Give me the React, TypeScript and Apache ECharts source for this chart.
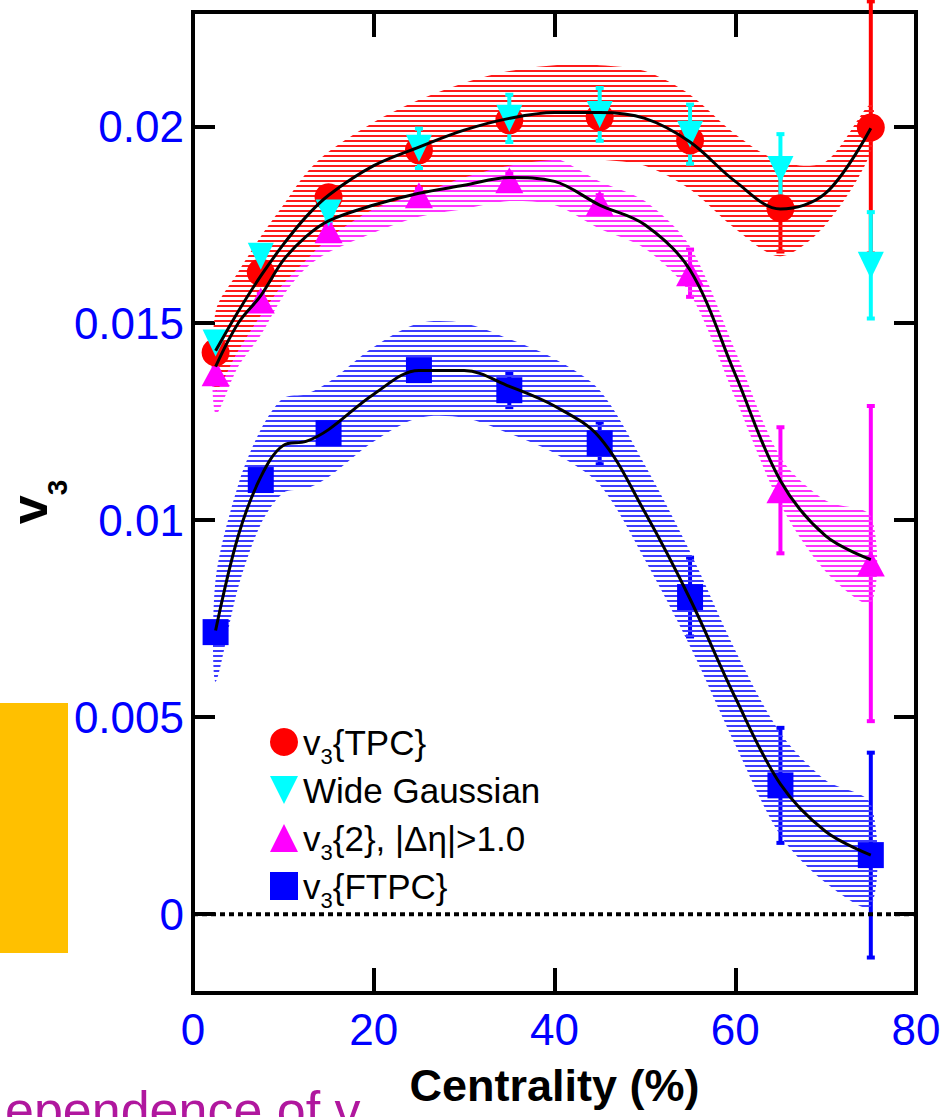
import React, { useEffect, useRef } from 'react';
import * as echarts from 'echarts';

// ---- data ----
const centrality = [2.5, 7.5, 15, 25, 35, 45, 55, 65, 75];

const tpcV3 = [0.01426, 0.01629, 0.0182, 0.01939, 0.02015, 0.02023, 0.01964, 0.01792, 0.01997];
const tpcErr = [0.0002, 0.0002, 0.0002, 0.0002, 0.0002, 0.0002, 0.0003, 0.0011, 0.0032];

const wideGaussV3 = [0.0145, 0.0167, 0.0178, 0.01944, 0.0202, 0.0203, 0.0198, 0.0189, 0.01647];
const wideGaussErr = [0.0002, 0.0002, 0.0002, 0.0005, 0.0006, 0.00067, 0.00075, 0.0009, 0.00135];

const v32V3 = [0.01373, 0.01558, 0.01736, 0.01825, 0.01863, 0.01805, 0.01627, 0.01076, 0.0089];
const v32Err = [0.0002, 0.0002, 0.0002, 0.0002, 0.0002, 0.0002, 0.0006, 0.0016, 0.004];

const ftpcV3 = [0.00716, 0.01102, 0.01221, 0.01381, 0.0133, 0.01195, 0.00805, 0.00327, 0.0015];
const ftpcErr = [0.0002, 0.0002, 0.0002, 0.0002, 0.00043, 0.00053, 0.001, 0.00146, 0.0026];

// smooth fit curves and hatched systematic bands
const fitX = [2.5, 5, 7.5, 10, 12.5, 15, 20, 25, 30, 35, 40, 45, 50, 55, 60, 65, 70, 75];
const tpcFit = [0.0143, 0.0153, 0.0162, 0.017, 0.0177, 0.01825, 0.019, 0.01947, 0.0199, 0.0202, 0.02035, 0.02035, 0.0202, 0.0196, 0.0186, 0.0179, 0.0183, 0.01995];
const tpcBand = [0.001, 0.001, 0.001, 0.001, 0.0011, 0.0011, 0.0011, 0.0012, 0.0012, 0.0012, 0.0012, 0.0012, 0.0012, 0.0012, 0.0012, 0.0012, 0.0008, 0.0006];
const v32Fit = [0.0139, 0.015, 0.0157, 0.0166, 0.0172, 0.0176, 0.018, 0.0183, 0.0185, 0.0187, 0.0186, 0.018, 0.0175, 0.01635, 0.0137, 0.011, 0.0096, 0.009];
const v32Band = [0.0012, 0.0011, 0.001, 0.0009, 0.0008, 0.0008, 0.0007, 0.0006, 0.0006, 0.0006, 0.0006, 0.0006, 0.0006, 0.0006, 0.0006, 0.0006, 0.0009, 0.0011];
const ftpcFit = [0.0072, 0.0096, 0.0111, 0.0119, 0.012, 0.0123, 0.0132, 0.0138, 0.0138, 0.0134, 0.0129, 0.0121, 0.0102, 0.008, 0.0055, 0.0033, 0.0021, 0.0015];
const ftpcBand = [0.0013, 0.0013, 0.0012, 0.0012, 0.0012, 0.0012, 0.0012, 0.0012, 0.0012, 0.0012, 0.0012, 0.0012, 0.0012, 0.0012, 0.0012, 0.0013, 0.0013, 0.0013];

const yTicks = [0, 0.005, 0.01, 0.015, 0.02];
const xMin = 0;
const xMax = 80;
const xStep = 20;
const yMin = -0.002;
const yMax = 0.0229;

const legendNames = ['v3{TPC}', 'Wide Gaussian', 'v3{2}, |Δη|>1.0', 'v3{FTPC}'];
const legendLabels: Record<string, string> = {
  'v3{TPC}': 'v{s|3}{TPC}',
  'Wide Gaussian': 'Wide Gaussian',
  'v3{2}, |Δη|>1.0': 'v{s|3}{2}, |Δη|>1.0',
  'v3{FTPC}': 'v{s|3}{FTPC}',
};

const FONT = "'Liberation Sans', Arial, sans-serif";
const BLUE = '#0000ff';

function hatch(color: string) {
  const c = document.createElement('canvas');
  c.width = 6;
  c.height = 5;
  const g = c.getContext('2d')!;
  g.fillStyle = color;
  g.fillRect(0, 0, 6, 2);
  return { image: c, repeat: 'repeat' } as any;
}

function bandSeries(fit: number[], half: number[], color: string) {
  const pattern = hatch(color);
  return {
    type: 'custom',
    silent: true,
    clip: true,
    data: [[fitX[0], fit[0]]],
    renderItem: (_p: any, api: any) => {
      const upper = fitX.map((x, i) => api.coord([x, fit[i] + half[i]]));
      const lower = fitX.map((x, i) => api.coord([x, fit[i] - half[i]])).reverse();
      return {
        type: 'polygon',
        shape: { points: upper.concat(lower), smooth: 0.3 },
        style: { fill: pattern, stroke: null },
      };
    },
  };
}

function fitSeries(fit: number[]) {
  return {
    type: 'line',
    silent: true,
    symbol: 'none',
    smooth: 0.35,
    data: fitX.map((x, i) => [x, fit[i]]),
    lineStyle: { color: '#000', width: 3 },
  };
}

function errSeries(vals: number[], errs: number[], color: string) {
  return {
    type: 'custom',
    silent: true,
    clip: false,
    data: centrality.map((x, i) => [x, vals[i] - errs[i], vals[i] + errs[i]]),
    encode: { x: 0, y: [1, 2] },
    renderItem: (_p: any, api: any) => {
      const x = api.value(0);
      const top = api.coord([x, api.value(2)]);
      const bot = api.coord([x, api.value(1)]);
      return {
        type: 'group',
        children: [
          { type: 'line', shape: { x1: top[0], y1: top[1], x2: bot[0], y2: bot[1] }, style: { stroke: color, lineWidth: 4 } },
          { type: 'rect', shape: { x: top[0] - 4, y: top[1] - 2, width: 8, height: 4 }, style: { fill: color } },
          { type: 'rect', shape: { x: bot[0] - 4, y: bot[1] - 2, width: 8, height: 4 }, style: { fill: color } },
        ],
      };
    },
  };
}

function markerSeries(name: string, vals: number[], color: string, symbol: string, size: any) {
  return {
    type: 'scatter',
    name,
    symbol,
    symbolSize: size,
    data: centrality.map((x, i) => [x, vals[i]]),
    itemStyle: { color, opacity: 1 },
  };
}

const axisLineStyle = { color: '#000', width: 4, cap: 'square' };

export default function App() {
  const ref = useRef<HTMLDivElement>(null);
  useEffect(() => {
    const chart = echarts.init(ref.current!, null, { renderer: 'svg' });
    const option: any = {
      animation: false,
      backgroundColor: '#fff',
      grid: { left: 193, right: 35, top: 12, bottom: 124 },
      xAxis: [
        {
          type: 'value', min: xMin, max: xMax, interval: xStep, position: 'bottom',
          axisLine: { onZero: false, lineStyle: axisLineStyle },
          axisTick: { inside: true, length: 25, lineStyle: { color: '#000', width: 4 } },
          axisLabel: { color: BLUE, fontSize: 44, fontFamily: FONT, margin: 14 },
          splitLine: { show: false },
          name: 'Centrality (%)', nameLocation: 'middle', nameGap: 70,
          nameTextStyle: { color: '#000', fontSize: 45, fontWeight: 'bold', fontFamily: FONT },
        },
        {
          type: 'value', min: xMin, max: xMax, interval: xStep, position: 'top',
          axisLine: { onZero: false, lineStyle: axisLineStyle },
          axisTick: { inside: true, length: 25, lineStyle: { color: '#000', width: 4 } },
          axisLabel: { show: false },
          splitLine: { show: false },
        },
      ],
      yAxis: [
        {
          type: 'value', min: yMin, max: yMax, position: 'left',
          axisLine: { onZero: false, lineStyle: axisLineStyle },
          axisTick: { inside: true, length: 22, customValues: yTicks, lineStyle: { color: '#000', width: 4 } },
          axisLabel: { color: BLUE, fontSize: 44, fontFamily: FONT, margin: 9, customValues: yTicks, formatter: (v: number) => String(v) },
          splitLine: { show: false },
        },
        {
          type: 'value', min: yMin, max: yMax, position: 'right',
          axisLine: { onZero: false, lineStyle: axisLineStyle },
          axisTick: { inside: true, length: 22, customValues: yTicks, lineStyle: { color: '#000', width: 4 } },
          axisLabel: { show: false },
          splitLine: { show: false },
        },
      ],
      legend: {
        orient: 'vertical', left: 265, top: 712, itemWidth: 28, itemHeight: 28, itemGap: -2,
        selectedMode: false,
        data: legendNames,
        formatter: (n: string) => legendLabels[n] ?? n,
        textStyle: {
          color: '#000', fontSize: 35, fontFamily: FONT, lineHeight: 50,
          rich: { s: { fontSize: 22, fontFamily: FONT, lineHeight: 22, verticalAlign: 'bottom', color: '#000' } },
        },
      },
      graphic: [
        { type: 'rect', left: 0, top: 703, shape: { width: 68, height: 250 }, style: { fill: '#ffc000' }, silent: true },
        {
          type: 'text', x: 5, y: 1110, silent: true,
          style: { text: 'ependence of v', fontSize: 52, fontFamily: FONT, fill: '#b0179e', verticalAlign: 'middle', align: 'left' },
        },
        {
          type: 'text', x: 29, y: 502, rotation: Math.PI / 2, silent: true,
          style: {
            text: 'v{s|3}', fontSize: 52, fontWeight: 'bold', fontFamily: FONT, fill: '#000',
            align: 'center', verticalAlign: 'middle', lineHeight: 84,
            rich: { s: { fontSize: 28, fontWeight: 'bold', fontFamily: FONT, lineHeight: 28, verticalAlign: 'bottom', fill: '#000' } },
          },
        },
      ],
      series: [
        // v3{2}
        errSeries(v32V3, v32Err, '#ff00ff'),
        markerSeries('v3{2}, |Δη|>1.0', v32V3, '#ff00ff', 'triangle', [28, 26]),
        fitSeries(v32Fit),
        bandSeries(v32Fit, v32Band, '#ff33ff'),
        // FTPC
        errSeries(ftpcV3, ftpcErr, '#0000ff'),
        markerSeries('v3{FTPC}', ftpcV3, '#0000ff', 'rect', 26),
        fitSeries(ftpcFit),
        bandSeries(ftpcFit, ftpcBand, '#3c3cff'),
        // TPC
        errSeries(tpcV3, tpcErr, '#ff0000'),
        markerSeries('v3{TPC}', tpcV3, '#ff0000', 'circle', 28),
        fitSeries(tpcFit),
        bandSeries(tpcFit, tpcBand, '#ff1a1a'),
        // zero line
        {
          type: 'line', silent: true, symbol: 'none',
          data: [[xMin, 0], [xMax, 0]],
          lineStyle: { color: '#000', width: 4, type: [5, 4] },
        },
        // Wide Gaussian on top
        errSeries(wideGaussV3, wideGaussErr, '#00ffff'),
        markerSeries('Wide Gaussian', wideGaussV3, '#00ffff', 'path://M0,0L20,0L10,20Z', [26, 27]),
      ],
    };
    chart.setOption(option);
    return () => chart.dispose();
  }, []);
  return <div ref={ref} style={{ position: 'absolute', left: 0, top: 0, width: 951, height: 1117 }} />;
}
